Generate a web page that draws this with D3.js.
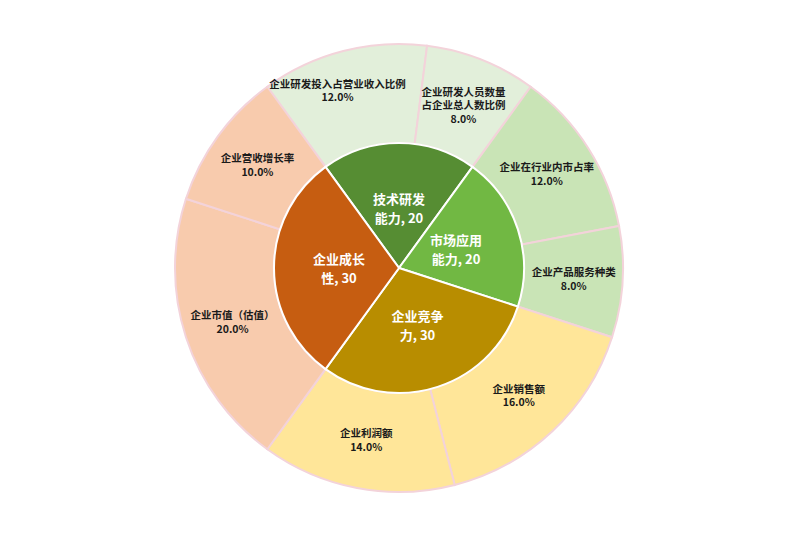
<!DOCTYPE html>
<html>
<head>
<meta charset="utf-8">
<script src="https://cdn.jsdelivr.net/npm/d3@7"></script>
<style>
  body { margin: 0; background: #fff; }
  text { font-family: "Noto Sans CJK SC", "Noto Sans", sans-serif; font-weight: bold; }
</style>
</head>
<body>
<div id="chart"></div>
<script>
var svgWidth = 800;
var svgHeight = 537;

// Data
var categories = ["技术研发能力", "市场应用能力", "企业竞争力", "企业成长性"];
var categoryValues = [20, 20, 30, 30];
var categoryLines = [["技术研发", "能力, 20"], ["市场应用", "能力, 20"], ["企业竞争", "力, 30"], ["企业成长", "性, 30"]];
var categoryColors = ["#568D33", "#71B843", "#B88D00", "#C65D11"];

var items = ["企业研发投入占营业收入比例", "企业研发人员数量占企业总人数比例", "企业在行业内市占率", "企业产品服务种类",
  "企业销售额", "企业利润额", "企业市值（估值）", "企业营收增长率"];
var itemLines = [["企业研发投入占营业收入比例"], ["企业研发人员数量", "占企业总人数比例"], ["企业在行业内市占率"], ["企业产品服务种类"],
  ["企业销售额"], ["企业利润额"], ["企业市值（估值）"], ["企业营收增长率"]];
var itemValues = [12, 8, 12, 8, 16, 14, 20, 10];
var itemColors = ["#E2EFDA", "#E2EFDA", "#C9E4B6", "#C9E4B6", "#FFE699", "#FFE699", "#F8CBAD", "#F8CBAD"];

var cx = 399, cy = 268;
var innerR = 125, outerR = 224;

var svg = d3.select("#chart")
  .append("svg")
  .attr("width", svgWidth)
  .attr("height", svgHeight);

var g = svg.append("g")
  .attr("transform", `translate(${cx}, ${cy})`);

// first category centred at 12 o'clock
var total = d3.sum(categoryValues);
var start = -Math.PI * categoryValues[0] / total;

var pie = d3.pie().sort(null).startAngle(start).endAngle(start + 2 * Math.PI);

var innerArcs = pie(categoryValues);
var outerArcs = pie(itemValues);

var innerArc = d3.arc().innerRadius(0).outerRadius(innerR);
var outerArc = d3.arc().innerRadius(innerR).outerRadius(outerR);

// Outer ring
g.selectAll("path.outer")
  .data(outerArcs)
  .enter()
  .append("path")
  .attr("class", "outer")
  .attr("d", outerArc)
  .attr("fill", (d, i) => itemColors[i])
  .attr("stroke", "#F3D3DA")
  .attr("stroke-width", 2);

// Inner pie
g.selectAll("path.inner")
  .data(innerArcs)
  .enter()
  .append("path")
  .attr("class", "inner")
  .attr("d", innerArc)
  .attr("fill", (d, i) => categoryColors[i])
  .attr("stroke", "#fff")
  .attr("stroke-width", 2);

function labelPos(d, r) {
  var a = (d.startAngle + d.endAngle) / 2;
  return [r * Math.sin(a), -r * Math.cos(a)];
}

// Inner labels
innerArcs.forEach(function(d, i) {
  var p = labelPos(d, 60);
  var lines = categoryLines[i];
  var lh = 19;
  var t = g.append("text")
    .attr("text-anchor", "middle")
    .attr("fill", "#fff")
    .attr("font-size", "13px");
  lines.forEach(function(line, j) {
    t.append("tspan")
      .attr("x", p[0])
      .attr("y", p[1] + (j - (lines.length - 1) / 2) * lh + 5)
      .text(line);
  });
});

// Outer labels (the wide first label is nudged up-left to stay inside its slice)
var fmt = d3.format(".1f");
outerArcs.forEach(function(d, i) {
  var p = labelPos(d, 175);
  if (i === 0) { p[0] -= 18; p[1] -= 8; }
  var lines = itemLines[i].concat([fmt(itemValues[i]) + "%"]);
  var lh = 13.5;
  var t = g.append("text")
    .attr("text-anchor", "middle")
    .attr("fill", "#1a1a1a")
    .attr("font-size", "10.5px");
  lines.forEach(function(line, j) {
    t.append("tspan")
      .attr("x", p[0])
      .attr("y", p[1] + (j - (lines.length - 1) / 2) * lh + 4)
      .text(line);
  });
});
</script>
</body>
</html>
